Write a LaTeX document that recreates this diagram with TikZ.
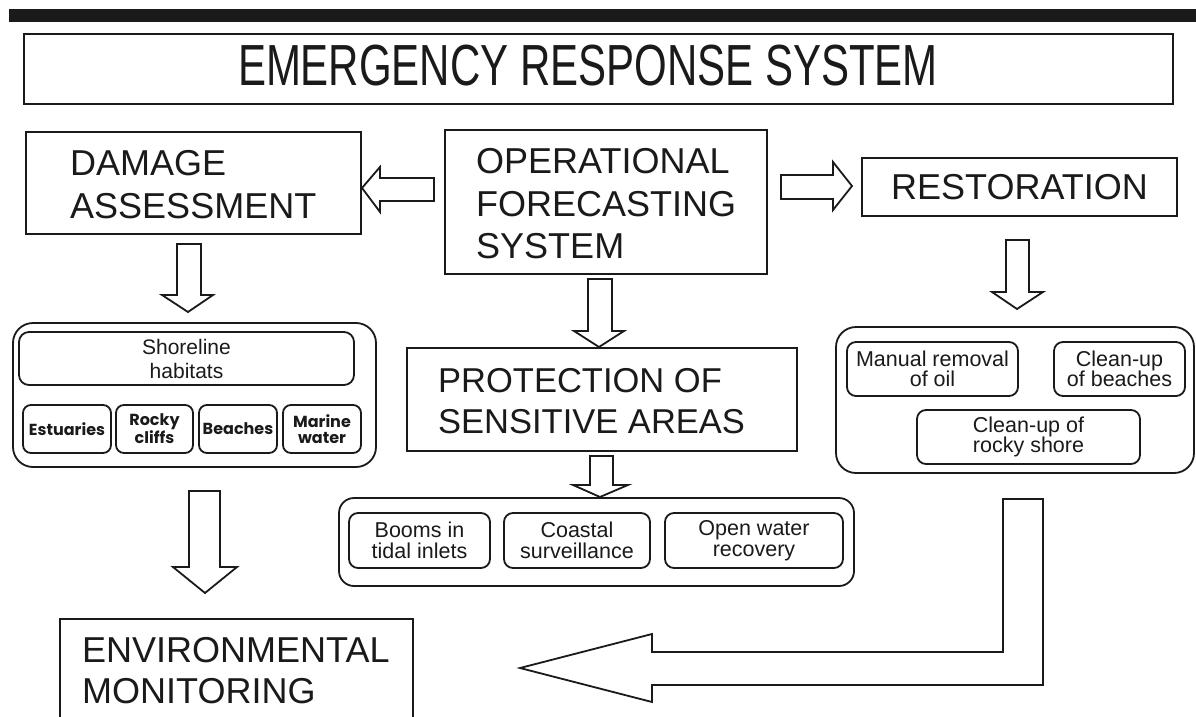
\documentclass[tikz,border=0pt]{standalone}
\usepackage{fontspec}
\setmainfont{Liberation Sans}
\newfontfamily\geo{Poppins}
\usepackage{graphicx}
\usetikzlibrary{fit}
\definecolor{ink}{HTML}{1A1A1A}
\tikzset{
  sqbox/.style={draw=ink, line width=1.8pt, inner sep=0pt},
  rbox/.style={draw=ink, line width=1.8pt, inner sep=0pt, rounded corners=#1},
  bigtxt/.style={font=\fontsize{36}{43}\selectfont, inner sep=0pt, text=ink},
  smalltxt/.style={font=\fontsize{21.5}{20.5}\selectfont, align=center, inner sep=0pt, text=ink},
  geotxt/.style={font=\geo\bfseries\fontsize{16}{16.5}\selectfont, align=center, inner sep=0pt, text=ink},
  blockarrow/.style={draw=ink, line width=1.8pt, fill=white, line join=miter}
}
\newcommand{\dnarrow}[8]{\draw[blockarrow] (#1,#3) -- (#2,#3) -- (#2,#6) -- (#5,#6) -- (#7,#8) -- (#4,#6) -- (#1,#6) -- cycle;}
\begin{document}
\begin{tikzpicture}[x=1pt,y=-1pt]
\useasboundingbox (0,0) rectangle (1196,717);
\fill[white] (0,0) rectangle (1196,717);
% top bar
\fill[ink] (9,9) rectangle (1197,22);
% title
\node[sqbox, fit={(24,34) (1173,104)}] (title) {};
\node[inner sep=0pt, anchor=base, text=ink] (titleT) at (588,85)
  {\scalebox{0.724}[1]{\fontsize{58}{60}\selectfont EMERGENCY RESPONSE SYSTEM}};
% damage assessment
\node[sqbox, fit={(26,132) (361,234)}] (dmg) {};
\node[bigtxt, anchor=base west] (dmgT1) at (70,175) {DAMAGE};
\node[bigtxt, anchor=base west] (dmgT2) at (70,218) {ASSESSMENT};
% operational forecasting system
\node[sqbox, fit={(445,130) (767,274)}] (ofs) {};
\node[bigtxt, anchor=base west] (ofsT1) at (476,173) {OPERATIONAL};
\node[bigtxt, anchor=base west] (ofsT2) at (476,216) {FORECASTING};
\node[bigtxt, anchor=base west] (ofsT3) at (476,258) {SYSTEM};
% restoration
\node[sqbox, fit={(862,158) (1177,216)}] (rest) {};
\node[bigtxt, anchor=base] (restT) at (1019.5,199) {RESTORATION};
% protection
\node[sqbox, fit={(407,348) (797,451)}] (prot) {};
\node[bigtxt, font=\fontsize{34.5}{41}\selectfont, anchor=base west] (protT1) at (438,392) {PROTECTION OF};
\node[bigtxt, font=\fontsize{34.5}{41}\selectfont, anchor=base west] (protT2) at (438,433) {SENSITIVE AREAS};
% environmental monitoring
\node[sqbox, fit={(60,619) (413,722)}] (env) {};
\node[bigtxt, anchor=base west] (envT1) at (82,662) {ENVIRONMENTAL};
\node[bigtxt, anchor=base west] (envT2) at (82,703) {MONITORING};
% shoreline group
\node[rbox=20pt, fit={(13,323) (376,467)}] (shore) {};
\node[rbox=10pt, fit={(19,332) (354,385)}] (shoreH) {};
\node[smalltxt, font=\fontsize{21}{24}\selectfont] (shoreHT) at (shoreH.center) {Shoreline\\habitats};
\node[rbox=8pt, fit={(23,405) (111,453)}] (est) {};
\node[geotxt] (estT) at (est.center) {Estuaries};
\node[rbox=8pt, fit={(116,405) (193,453)}] (rock) {};
\node[geotxt] (rockT) at (rock.center) {Rocky\\cliffs};
\node[rbox=8pt, fit={(199,405) (277,453)}] (beach) {};
\node[geotxt] (beachT) at (beach.center) {Beaches};
\node[rbox=8pt, fit={(283,405) (361,453)}] (marine) {};
\node[geotxt] (marineT) at (marine.center) {Marine\\water};
% protection group
\node[rbox=15pt, fit={(339,498) (854,586)}] (pgrp) {};
\node[rbox=9pt, fit={(349,513) (490,568)}] (boom) {};
\node[smalltxt] (boomT) at (boom.center) {Booms in\\tidal inlets};
\node[rbox=9pt, fit={(504,513) (650,568)}] (coast) {};
\node[smalltxt] (coastT) at (coast.center) {Coastal\\surveillance};
\node[rbox=9pt, fit={(665,513) (843,568)}] (open) {};
\node[smalltxt] (openT) at (open.center) {Open water\\recovery};
% restoration group
\node[rbox=20pt, fit={(836,327) (1194,473)}] (rgrp) {};
\node[rbox=9pt, fit={(847,342) (1018,396)}] (manual) {};
\node[smalltxt] (manualT) at (manual.center) {Manual removal\\of oil};
\node[rbox=9pt, fit={(1054,342) (1185,396)}] (cbeach) {};
\node[smalltxt] (cbeachT) at (cbeach.center) {Clean-up\\of beaches};
\node[rbox=9pt, fit={(917,410) (1140,464)}] (crock) {};
\node[smalltxt] (crockT) at (crock.center) {Clean-up of\\rocky shore};
% block arrows
\draw[blockarrow] (362,188) -- (380,167) -- (380,178) -- (434,178) -- (434,201) -- (380,201) -- (380,212) -- cycle;
\draw[blockarrow] (852,186) -- (833,162) -- (833,175) -- (781,175) -- (781,199) -- (833,199) -- (833,210) -- cycle;
\dnarrow{177}{201}{244}{162}{213}{295}{188}{312}
\dnarrow{588}{612}{279}{574}{624}{331}{599}{347}
\dnarrow{1006}{1029}{240}{992}{1043}{292}{1017}{309}
\dnarrow{189}{220}{491}{173}{237}{567}{205}{593}
\dnarrow{590}{613}{456}{573}{628}{485}{600}{497}
\draw[blockarrow] (520,668) -- (652,634) -- (652,652) -- (1003,652) -- (1003,499) -- (1043,499) -- (1043,685) -- (652,685) -- (652,702) -- cycle;
\end{tikzpicture}
\end{document}
